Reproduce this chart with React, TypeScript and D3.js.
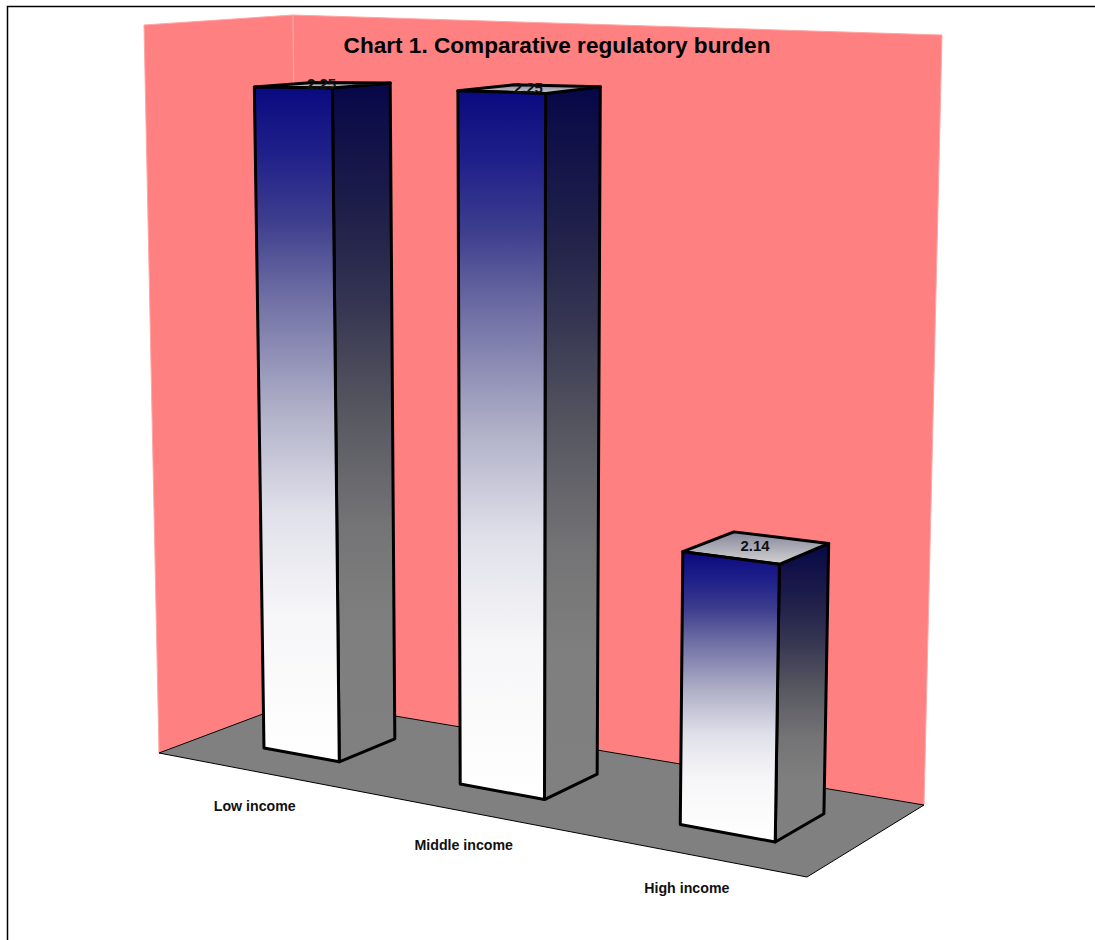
import React from "react";
import * as d3 from "d3";

// Chart content
const categories = ["Low income", "Middle income", "High income"];
const values = [2.25, 2.25, 2.14];
const valueLabels = ["2.25", "2.25", "2.14"];
const chartTitle = "Chart 1. Comparative regulatory burden";

// Floor coordinates of the bars: u runs across the floor, v runs into the page
const barAcrossRange: [number, number] = [0.112, 0.909];
const barDepth: [number, number] = [0.295, 0.7];
const labelAcross = [0.269, 0.591, 0.9];
const labelDepth = [-0.377, -0.348, -0.33];

// Rise above the floor, in pixels at the front of the first bar
const valueDomain: [number, number] = [2.0737, 2.25];
const riseRange: [number, number] = [0, 661];
const risePerAcross = 0.147;
const riseFalloffDepth = 0.066;

// Camera: screen corners of the floor, upper wall corners and vertical vanishing point
const floorCorners: [number, number][] = [
  [159, 753],
  [807, 877],
  [924, 805],
  [300, 700],
];
const wallTopLeft: [number, number] = [144, 25];
const wallTopBack: [number, number] = [293, 15];
const wallTopRight: [number, number] = [942, 35];
const verticalVanish: [number, number] = [518, 18175];

// Stops of the vertical shading on the bar faces
const frontStops: [number, string][] = [
  [0, "#0a0a80"],
  [0.1, "#20208a"],
  [0.2, "#3e3e8e"],
  [0.3, "#6a6aa2"],
  [0.48, "#b0b0c8"],
  [0.63, "#e0e0ea"],
  [0.78, "#f6f6f8"],
  [1, "#ffffff"],
];
const sideStops: [number, string][] = [
  [0, "#070748"],
  [0.2, "#20204a"],
  [0.32, "#343452"],
  [0.48, "#565660"],
  [0.65, "#747476"],
  [0.8, "#7f7f7f"],
  [1, "#808080"],
];

// Perspective map of the floor plane from the unit square onto its four screen corners
function makeFloor(q: [number, number][]) {
  const [[x0, y0], [x1, y1], [x2, y2], [x3, y3]] = q;
  const dx1 = x1 - x2;
  const dx2 = x3 - x2;
  const sx = x0 - x1 + x2 - x3;
  const dy1 = y1 - y2;
  const dy2 = y3 - y2;
  const sy = y0 - y1 + y2 - y3;
  const det = dx1 * dy2 - dx2 * dy1;
  const g = (sx * dy2 - dx2 * sy) / det;
  const h = (dx1 * sy - sx * dy1) / det;
  const a = x1 - x0 + g * x1;
  const b = x3 - x0 + h * x3;
  const d = y1 - y0 + g * y1;
  const e = y3 - y0 + h * y3;
  return (u: number, v: number): [number, number] => {
    const w = g * u + h * v + 1;
    return [(a * u + b * v + x0) / w, (d * u + e * v + y0) / w];
  };
}

const floorAt = makeFloor(floorCorners);

// Raises a floor point by a pixel amount along the line towards the vanishing point
function lift(p: [number, number], rise: number): [number, number] {
  const f = rise / (verticalVanish[1] - p[1]);
  return [p[0] - f * (verticalVanish[0] - p[0]), p[1] - rise];
}

const across = d3.scaleBand<string>().domain(categories).range(barAcrossRange).paddingInner(0.603).paddingOuter(0);
const riseScale = d3.scaleLinear().domain(valueDomain).range(riseRange);
const polygon = d3.line<[number, number]>();
const closed = (pts: [number, number][]) => polygon(pts) + "Z";

export default function App() {
  const fl = floorAt(0, 0);
  const fr = floorAt(1, 0);
  const br = floorAt(1, 1);
  const bl = floorAt(0, 1);
  const [z0, z1] = barDepth;
  const firstStart = across(categories[0])!;

  // Screen position of the top of a bar of the given value above floor position (u, v)
  const topPoint = (value: number, u: number, v: number) => {
    const rise = riseScale(value) * (1 + risePerAcross * (u - firstStart)) * (1 - riseFalloffDepth * (v - z0));
    return lift(floorAt(u, v), rise);
  };

  return (
    <svg
      width={1095}
      height={940}
      style={{ position: "absolute", left: 0, top: 0, display: "block", fontFamily: "'Liberation Sans', Arial, sans-serif" }}
    >
      <defs>
        <linearGradient id="front" x1="0" y1="0" x2="0" y2="1">
          {frontStops.map(([o, c]) => (
            <stop key={o} offset={o} stopColor={c} />
          ))}
        </linearGradient>
        <linearGradient id="side" x1="0" y1="0" x2="0" y2="1">
          {sideStops.map(([o, c]) => (
            <stop key={o} offset={o} stopColor={c} />
          ))}
        </linearGradient>
        <linearGradient id="cap" x1="0" y1="0" x2="0" y2="1">
          <stop offset="0" stopColor="#85859a" />
          <stop offset="1" stopColor="#d4d4d4" />
        </linearGradient>
      </defs>

      <rect width={1095} height={940} fill="#fff" />
      <path d="M7.5 940V6.5H1095" fill="none" stroke="#000" strokeWidth={1.5} />

      <path d={closed([wallTopLeft, wallTopBack, bl, fl])} fill="#ff8080" stroke="#ffa6a6" strokeWidth={1} />
      <path d={closed([wallTopBack, wallTopRight, br, bl])} fill="#ff8080" stroke="#ffa6a6" strokeWidth={1} />
      <path d={closed([fl, fr, br, bl])} fill="#808080" stroke="#000" strokeWidth={1} />

      {categories.map((c, i) => {
        const u0 = across(c)!;
        const u1 = u0 + across.bandwidth();
        const v = values[i];
        const tfl = topPoint(v, u0, z0);
        const tfr = topPoint(v, u1, z0);
        const tbr = topPoint(v, u1, z1);
        const tbl = topPoint(v, u0, z1);
        return (
          <g key={c} stroke="#000" strokeWidth={3} strokeLinejoin="round">
            <path d={closed([tfr, tbr, floorAt(u1, z1), floorAt(u1, z0)])} fill="url(#side)" />
            <path d={closed([tfl, tfr, tbr, tbl])} fill="url(#cap)" />
            <path d={closed([tfl, tfr, floorAt(u1, z0), floorAt(u0, z0)])} fill="url(#front)" />
          </g>
        );
      })}

      {categories.map((c, i) => {
        const u = across(c)! + across.bandwidth() / 2;
        const [x, y] = topPoint(values[i], u, (z0 + z1) / 2);
        return (
          <text key={c} x={x - 1} y={y + 4} textAnchor="middle" fontSize={15} fontWeight="bold" fill="#111">
            {valueLabels[i]}
          </text>
        );
      })}

      <text x={557} y={53} textAnchor="middle" fontSize={22.6} fontWeight="bold" fill="#000">
        {chartTitle}
      </text>

      {categories.map((c, i) => {
        const [x, y] = floorAt(labelAcross[i], labelDepth[i]);
        return (
          <text key={c} x={x} y={y + 5} textAnchor="middle" fontSize={14.2} fontWeight="bold" fill="#111">
            {c}
          </text>
        );
      })}
    </svg>
  );
}
